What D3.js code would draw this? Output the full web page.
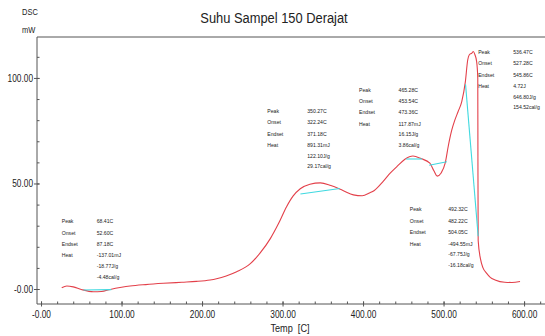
<!DOCTYPE html>
<html>
<head>
<meta charset="utf-8">
<script src="https://cdn.jsdelivr.net/npm/d3@7"></script>
<style>
  body { margin: 0; background: #fff; }
  svg { display: block; }
  text { font-family: "Liberation Sans", Arial, sans-serif; fill: #222; }
</style>
</head>
<body>
<svg id="chart" width="545" height="336"></svg>
<script>
// DSC curve (temperature in C, heat flow in mW)
const temp = [25.7, 32, 40, 50, 65, 75, 86, 100, 110.6, 130, 152, 175, 193, 210, 218, 230, 243, 260, 272,
  285, 295, 305, 313, 322, 334, 347, 360, 375, 388, 399, 408, 414, 425, 434, 442, 452, 462, 472, 483, 488,
  492, 497, 502, 506, 510, 514, 518, 522.6, 527, 530, 532, 535, 537, 539, 541, 542.5, 542.7, 543, 546, 549,
  553.6, 558, 564, 576, 585, 595];
const dsc = [0.6, 1.4, 1.0, -0.2, -1.3, -1.2, -0.2, 0.8, 1.4, 2.1, 2.7, 3.2, 3.6, 4.3, 4.9, 6.2, 8.2, 12, 17,
  24, 31, 39, 44, 47.5, 49.6, 50.3, 49, 46.7, 44.6, 44.2, 45.5, 46.7, 51, 55, 58, 61.5, 63, 61.8, 59.6, 56,
  53.5, 55, 59.6, 68, 75, 80, 84, 88.8, 98, 108.5, 111, 111.7, 112.5, 111, 108, 100, 60, 23, 14, 10,
  7.4, 5.5, 4.3, 3.2, 3.1, 3.6];

// baselines of the analysed peaks [onset T, value, endset T, value]
const baselines = [
  [52.6, -0.5, 87.2, -0.3],
  [322.2, 45, 371.2, 47.6],
  [453.5, 61.6, 473.4, 61.6],
  [482.2, 58.6, 504.1, 60.3],
  [527.3, 97, 543, 25]
];

// peak analysis texts
const peakLabels = ["Peak", "Onset", "Endset", "Heat"];
const peakValues = [
  ["68.41C", "52.60C", "87.18C", "-137.01mJ", "-18.77J/g", "-4.48cal/g"],
  ["350.27C", "322.24C", "371.18C", "891.31mJ", "122.10J/g", "29.17cal/g"],
  ["465.28C", "453.54C", "473.36C", "117.87mJ", "16.15J/g", "3.86cal/g"],
  ["492.32C", "482.22C", "504.05C", "-494.55mJ", "-67.75J/g", "-16.18cal/g"],
  ["536.47C", "527.28C", "545.86C", "4.72J", "646.80J/g", "154.52cal/g"]
];

const xTicks = [0, 100, 200, 300, 400, 500, 600];
const xTickLabels = ["-0.00", "100.00", "200.00", "300.00", "400.00", "500.00", "600.00"];
const yTicks = [0, 50, 100];
const yTickLabels = ["-0.00", "50.00", "100.00"];

const svg = d3.select("#chart"),
  margin = { top: 37, right: 0, bottom: 32, left: 37 },
  width = +svg.attr("width") - margin.left - margin.right,
  height = +svg.attr("height") - margin.top - margin.bottom;

const g = svg.append("g").attr("transform", `translate(${margin.left},${margin.top})`);

const x = d3.scaleLinear().domain([-5, 626]).range([0, width]);
const y = d3.scaleLinear().domain([-7.1, 119.4]).range([height, 0]);

// frame
g.append("path")
  .attr("d", `M${width + 1},0H0V${height}H${width + 1}`)
  .attr("fill", "none")
  .attr("stroke", "#555")
  .attr("stroke-width", 1);

// minor ticks (inside)
const xMinor = d3.range(0, 621, 20);
const yMinor = d3.range(0, 111, 10);
g.append("g")
  .attr("transform", `translate(0,${height})`)
  .call(d3.axisBottom(x).tickValues(xMinor).tickSize(-2.5).tickFormat(""))
  .call((s) => s.select(".domain").remove())
  .selectAll("line").attr("stroke", "#555");
g.append("g")
  .call(d3.axisLeft(y).tickValues(yMinor).tickSize(-2.5).tickFormat(""))
  .call((s) => s.select(".domain").remove())
  .selectAll("line").attr("stroke", "#555");

// major ticks + labels
const xAxis = g.append("g")
  .attr("transform", `translate(0,${height})`)
  .call(d3.axisBottom(x).tickValues(xTicks).tickSize(2.5).tickPadding(4)
    .tickFormat((d, i) => xTickLabels[i]))
  .call((s) => s.select(".domain").remove());
xAxis.selectAll("line").attr("stroke", "#555").attr("y1", -2.5);
xAxis.selectAll("text").attr("font-size", 10).attr("fill", "#222");

const yAxis = g.append("g")
  .call(d3.axisLeft(y).tickValues(yTicks).tickSize(3).tickPadding(1)
    .tickFormat((d, i) => yTickLabels[i]))
  .call((s) => s.select(".domain").remove());
yAxis.selectAll("line").attr("stroke", "#555").attr("x1", 2.5);
yAxis.selectAll("text").attr("font-size", 10).attr("fill", "#222");

// curve
const curveData = temp.map((t, i) => ({ t: t, v: dsc[i] }));
const lineGen = d3.line()
  .x((d) => x(d.t))
  .y((d) => y(d.v))
  .curve(d3.curveMonotoneX);

g.append("path")
  .datum(curveData)
  .attr("fill", "none")
  .attr("stroke", "#e3404a")
  .attr("stroke-width", 1.1)
  .attr("d", lineGen);

g.selectAll(".baseline")
  .data(baselines)
  .join("line")
  .attr("class", "baseline")
  .attr("x1", (d) => x(d[0]))
  .attr("y1", (d) => y(d[1]))
  .attr("x2", (d) => x(d[2]))
  .attr("y2", (d) => y(d[3]))
  .attr("stroke", "#3fd9e0")
  .attr("stroke-width", 1.1);

// annotation blocks, anchored in data units
const notePos = [[25.7, 32.2], [281, 84.4], [395, 94.6], [458, 37.8], [543, 112.5]];
const valueGap = [35, 40, 39.5, 38.5, 35];
const rowStep = 11.4;

const notes = g.selectAll(".note")
  .data(peakValues)
  .join("g")
  .attr("class", "note")
  .attr("transform", (d, i) => `translate(${x(notePos[i][0])},${y(notePos[i][1])})`);

notes.selectAll(".lab")
  .data(peakLabels)
  .join("text")
  .attr("class", "lab")
  .attr("y", (d, i) => i * rowStep)
  .attr("dy", "0.35em")
  .attr("font-size", 6.2)
  .text((d) => d);

notes.each(function (vals, k) {
  d3.select(this).selectAll(".val")
    .data(vals)
    .join("text")
    .attr("class", "val")
    .attr("x", valueGap[k])
    .attr("y", (d, i) => (i < 4 ? i * rowStep : 3 * rowStep + (i - 3) * 10.6))
    .attr("dy", "0.35em")
    .attr("font-size", 6.2)
    .text((d) => d);
});

// titles
svg.append("text")
  .attr("x", 274)
  .attr("y", 23)
  .attr("text-anchor", "middle")
  .attr("font-size", 15.5)
  .text("Suhu Sampel 150 Derajat");

svg.append("text").attr("x", 22).attr("y", 15).attr("font-size", 9).text("DSC");
svg.append("text").attr("x", 22).attr("y", 33).attr("font-size", 9).text("mW");

svg.append("text")
  .attr("x", 290)
  .attr("y", 332)
  .attr("text-anchor", "middle")
  .attr("font-size", 11)
  .attr("xml:space", "preserve")
  .text("Temp  [C]");

// the original uses a narrow face, squeeze the regular one
svg.selectAll("text").each(function () {
  const w = this.getComputedTextLength();
  d3.select(this).attr("textLength", w * 0.83).attr("lengthAdjust", "spacingAndGlyphs");
});
</script>
</body>
</html>
